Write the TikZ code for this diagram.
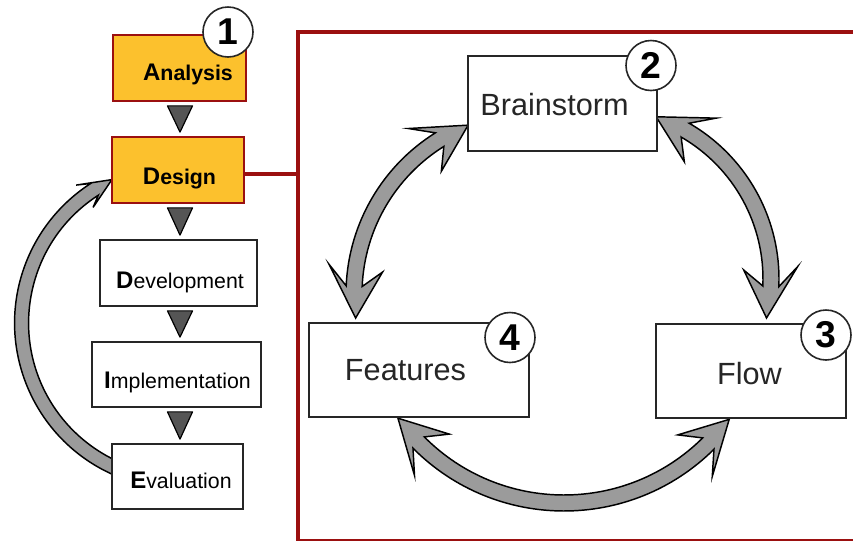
\documentclass[tikz,border=0pt]{standalone}
\usepackage{fontspec}
\setmainfont{Liberation Sans}
\usetikzlibrary{calc}

\definecolor{boxorange}{RGB}{252,193,45}
\definecolor{framered}{RGB}{155,16,16}
\definecolor{bandgray}{RGB}{155,155,155}
\definecolor{trigray}{RGB}{85,85,85}

% Stage label: larger bold initial followed by the rest of the word
\newcommand{\initword}[2]{{\fontsize{18}{20}\selectfont\bfseries #1}{\fontsize{16}{18}\selectfont #2}}

% Curved fat arrow with a barbed head at both ends.
% #1 centre, #2 radius, #3/#4 end angles, #5 half band width,
% #6 half head width, #7 notch depth, #8 barb depth
\newcommand{\doublearc}[8]{%
  \pgfmathsetmacro{\rOut}{#2+#5}%
  \pgfmathsetmacro{\rIn}{#2-#5}%
  \pgfmathsetmacro{\rWo}{#2+#6}%
  \pgfmathsetmacro{\rWi}{#2-#6}%
  \pgfmathsetmacro{\dN}{deg(#7/#2)}%
  \pgfmathsetmacro{\dW}{deg(#8/#2)}%
  \pgfmathsetmacro{\aN}{#3+\dN}\pgfmathsetmacro{\aW}{#3+\dW}%
  \pgfmathsetmacro{\bN}{#4-\dN}\pgfmathsetmacro{\bW}{#4-\dW}%
  \filldraw[band, shift={(#1)}]
    (#3:#2) -- (\aW:\rWo) -- (\aN:\rOut)
    arc[start angle=\aN, end angle=\bN, radius=\rOut]
    -- (\bW:\rWo) -- (#4:#2) -- (\bW:\rWi) -- (\bN:\rIn)
    arc[start angle=\bN, end angle=\aN, radius=\rIn]
    -- (\aW:\rWi) -- cycle;
}

% Same, with a head only at the #4 end
\newcommand{\singlearc}[8]{%
  \pgfmathsetmacro{\rOut}{#2+#5}%
  \pgfmathsetmacro{\rIn}{#2-#5}%
  \pgfmathsetmacro{\rWo}{#2+#6}%
  \pgfmathsetmacro{\rWi}{#2-#6}%
  \pgfmathsetmacro{\dN}{deg(#7/#2)}%
  \pgfmathsetmacro{\dW}{deg(#8/#2)}%
  \pgfmathsetmacro{\bN}{#4-\dN}\pgfmathsetmacro{\bW}{#4-\dW}%
  \filldraw[band, shift={(#1)}]
    (#3:\rOut) arc[start angle=#3, end angle=\bN, radius=\rOut]
    -- (\bW:\rWo) -- (#4:#2) -- (\bW:\rWi) -- (\bN:\rIn)
    arc[start angle=\bN, end angle=#3, radius=\rIn] -- cycle;
}

% Small down-pointing triangle between two stacked stages
\newcommand{\flowtri}[2]{%
  \filldraw[pointer] ($(#1.south -| col)+(-12.5,4)$) -- ($(#1.south -| col)+(12.5,4)$)
    -- ($(#2.north -| col)+(0,-4)$) -- cycle;
}

\begin{document}
\begin{tikzpicture}[x=0.75pt, y=-0.75pt,
  stage/.style={draw=black!85, line width=1.3pt, fill=white, inner sep=0pt},
  active/.style={stage, draw=framered, fill=boxorange},
  stepnum/.style={circle, draw=black!85, line width=1.2pt, fill=white,
    minimum size=37.5pt, inner sep=0pt, font=\fontsize{28}{30}\selectfont\bfseries},
  band/.style={fill=bandgray, draw=black, line width=1.1pt},
  pointer/.style={fill=trigray, draw=black, line width=0.9pt, line join=round},
  redframe/.style={draw=framered, line width=3.5pt},
  redlink/.style={draw=framered, line width=3pt},
  stagetext/.style={anchor=base, inner sep=0pt},
  ideatext/.style={anchor=base, inner sep=0pt, font=\fontsize{23}{26}\selectfont, text=black!85}
]
\useasboundingbox (0,0) rectangle (853,540);
\clip (0,0) rectangle (853,540);

% reference points
\coordinate (col) at (180,0);
\coordinate (frameTL) at (298,32);
\coordinate (loopC) at (180.6,323);
\coordinate (arcBF) at (536,294);
\coordinate (arcBL) at (599,279);
\coordinate (arcFL) at (564,298);

% feedback loop from Evaluation back to Design
\singlearc{loopC}{159}{113}{244.4}{7}{14}{20}{32}

% cycle of the design phase
\doublearc{arcBF}{182}{-187.6}{-111.9}{8}{27}{32}{50}
\doublearc{arcBL}{172}{-70.6}{13.1}{8}{27}{32}{50}
\doublearc{arcFL}{205}{36.3}{144.1}{8}{27}{32}{50}

% frame around the design phase
\draw[redframe] (frameTL) rectangle (880,541.5);

% ADDIE stages
\node[active, minimum width=99.75pt, minimum height=49.5pt] (analysis) at (179.5,68) {};
\node[active, minimum width=99pt, minimum height=49.5pt] (design) at (178,170) {};
\node[stage, minimum width=117.75pt, minimum height=49.5pt] (development) at (178.5,273) {};
\node[stage, minimum width=126.75pt, minimum height=48.75pt] (implementation) at (176.5,374.5) {};
\node[stage, minimum width=98.25pt, minimum height=48.75pt] (evaluation) at (177.5,476.5) {};

\node[stagetext] (analysisT) at (188,80) {\bfseries\initword{A}{nalysis}};
\node[stagetext] (designT) at (179.5,184) {\bfseries\initword{D}{esign}};
\node[stagetext] (developmentT) at (180,288) {\initword{D}{evelopment}};
\node[stagetext] (implementationT) at (177.5,388) {\initword{I}{mplementation}};
\node[stagetext] (evaluationT) at (181,488) {\initword{E}{valuation}};

\flowtri{analysis}{design}
\flowtri{design}{development}
\flowtri{development}{implementation}
\flowtri{implementation}{evaluation}

% link from Design to its frame
\coordinate (dlink) at ($(design.east)+(0,3.5)$);
\draw[redlink] (dlink) -- (dlink -| frameTL);

% design activities
\node[stage, minimum width=141.75pt, minimum height=71.25pt] (brainstorm) at (562.5,103.5) {};
\node[stage, minimum width=165pt, minimum height=70.5pt] (features) at (419,370) {};
\node[stage, minimum width=142.5pt, minimum height=70.5pt] (flow) at (751,371) {};

\node[ideatext] (brainstormT) at (554.5,115) {Brainstorm};
\node[ideatext] (featuresT) at (405.5,380) {Features};
\node[ideatext] (flowT) at (749.5,384) {Flow};

% step numbers
\node[stepnum] (n1) at (228,32) {1};
\node[stepnum] (n2) at (651,65.5) {2};
\node[stepnum] (n3) at (826,335) {3};
\node[stepnum] (n4) at (510,337.5) {4};
\end{tikzpicture}
\end{document}
